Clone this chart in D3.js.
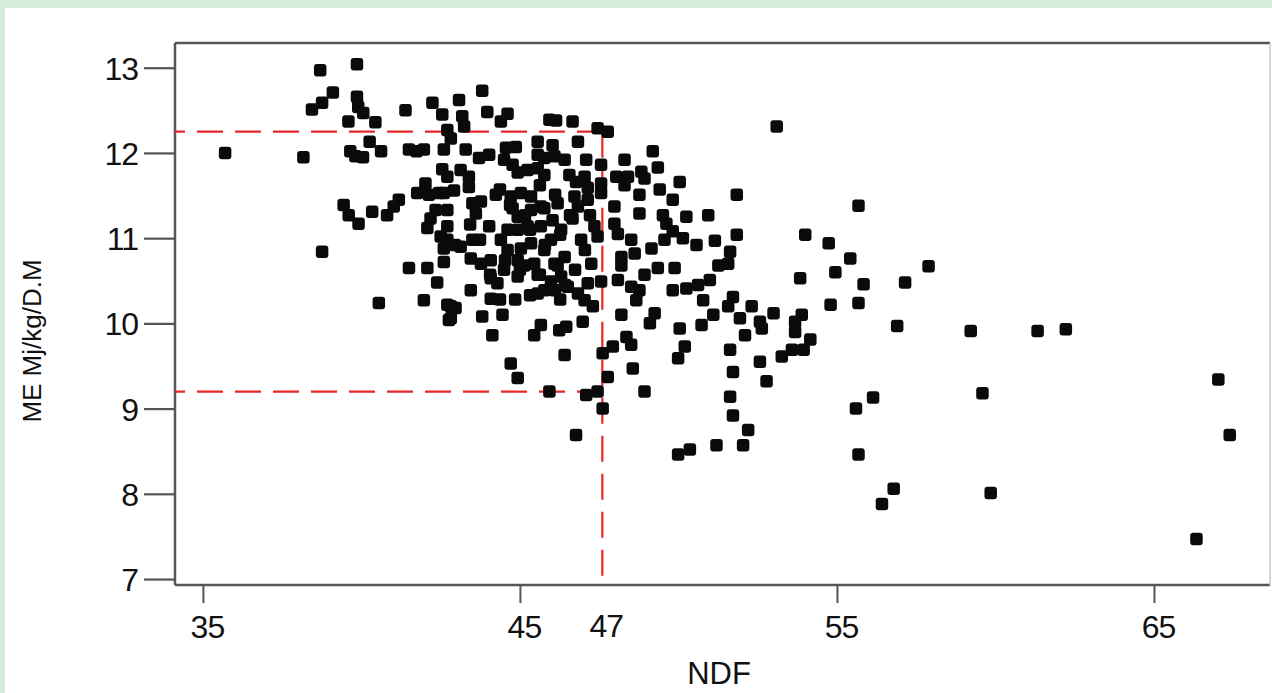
<!DOCTYPE html>
<html>
<head>
<meta charset="utf-8">
<script src="https://cdn.jsdelivr.net/npm/d3@7/dist/d3.min.js"></script>
<style>
  html, body { margin: 0; padding: 0; background: #d5ebdc; }
  svg { display: block; }
  text { font-family: "Liberation Sans", Arial, Helvetica, sans-serif; fill: #111; }
</style>
</head>
<body>
<svg id="chart" width="1272" height="693"></svg>
<script>
// ---- data (NDF, ME) ----
const points = [
  [38.70,12.97],[39.86,13.04],[39.10,12.71],[38.76,12.59],[38.44,12.51],[39.86,12.66],[39.90,12.54],[40.06,12.47],
  [39.59,12.37],[40.44,12.36],[41.39,12.50],[42.24,12.59],[42.55,12.45],[42.71,12.27],[35.70,12.00],[38.17,11.95],
  [39.65,12.02],[39.81,11.96],[40.05,11.95],[40.26,12.13],[40.62,12.02],[41.50,12.04],[41.74,12.02],[41.97,12.04],
  [42.60,12.04],[42.55,11.81],[42.71,11.72],[42.02,11.64],[41.76,11.53],[42.13,11.51],[42.45,11.53],[41.18,11.45],
  [41.02,11.37],[40.81,11.27],[40.34,11.31],[39.44,11.39],[39.60,11.27],[39.91,11.17],[42.34,11.33],[42.18,11.23],
  [42.08,11.12],[42.50,11.02],[42.71,11.14],[42.60,10.88],[38.76,10.84],[41.50,10.65],[42.08,10.65],
  [42.39,10.48],[40.55,10.24],[41.97,10.27],[42.71,10.22],[42.76,10.04],
  [43.81,12.73],[43.08,12.62],[43.18,12.43],[43.97,12.48],[44.61,12.46],[44.40,12.37],[43.24,12.31],[45.93,12.39],
  [46.14,12.38],[46.66,12.37],[47.45,12.29],[47.77,12.25],[42.82,12.17],[43.29,12.04],[43.71,11.94],[44.03,11.98],
  [44.56,12.06],[44.87,12.07],[44.50,11.92],[44.77,11.86],[45.56,12.13],[46.03,12.09],[45.56,11.98],[45.77,11.94],
  [46.09,11.96],[46.41,11.92],[46.83,12.13],[47.09,11.92],[47.56,11.86],[44.93,11.77],[45.24,11.80],[45.56,11.82],
  [45.77,11.74],[46.56,11.74],[46.77,11.66],[47.04,11.72],[43.13,11.80],[43.39,11.72],[43.39,11.60],[42.92,11.56],
  [42.60,11.53],[44.24,11.51],[44.71,11.49],[45.03,11.53],[45.35,11.49],[45.66,11.37],[46.19,11.41],[46.72,11.49],
  [47.14,11.59],[47.14,11.45],[47.56,11.53],[47.56,11.64],[43.50,11.41],[43.77,11.43],[43.61,11.29],[42.71,11.33],
  [44.77,11.35],[44.93,11.25],[45.35,11.33],[45.77,11.35],[46.03,11.21],[46.66,11.23],[46.83,11.37],[44.03,11.14],
  [44.61,11.10],[44.93,11.10],[45.24,11.14],[45.66,11.14],[46.30,11.10],[46.93,10.98],[47.35,11.14],[47.45,11.02],
  [43.50,10.98],[43.13,10.90],[42.71,10.98],[44.40,10.98],[44.61,10.86],[45.03,10.88],[45.35,10.94],[45.77,10.86],
  [45.98,10.98],[46.41,10.78],[43.45,10.76],[44.08,10.74],[44.93,10.74],[45.45,10.70],[46.09,10.70],[47.25,10.70],
  [42.60,10.72],[47.98,11.37],[47.98,11.17],
  [43.45,10.39],[44.08,10.29],[42.82,10.20],[42.97,10.18],[42.82,10.06],[43.81,10.08],[44.45,10.10],[44.13,9.86],
  [44.71,9.53],[44.93,9.36],[45.45,9.86],[45.66,9.98],[46.24,9.92],[46.46,9.96],[46.98,10.02],[46.41,9.63],
  [45.93,9.20],[47.09,9.16],[47.45,9.20],[47.61,9.65],[47.93,9.73],[47.77,9.37],[47.61,9.00],[46.77,8.69],
  [44.08,10.53],[44.29,10.47],[44.93,10.55],[45.56,10.57],[45.56,10.35],[45.77,10.39],[45.98,10.49],[46.30,10.55],
  [46.51,10.43],[46.83,10.35],[47.04,10.27],[47.30,10.20],[47.14,10.47],[47.56,10.49],[46.19,10.68],[45.14,10.68],
  [43.77,10.70],[44.50,10.63],[48.20,10.10],
  [44.37,11.57],[44.69,11.39],[45.16,11.27],[45.63,11.62],[46.11,11.51],[45.32,11.10],[45.79,10.92],[46.27,11.04],
  [44.53,10.74],[45.00,10.63],[44.06,10.57],[45.63,10.57],[46.11,10.39],[45.32,10.33],[46.42,10.45],[46.74,10.63],
  [47.05,10.86],[46.58,11.27],[47.21,11.27],[43.74,10.98],[43.43,11.16],[42.95,10.92],[44.37,10.28],[44.85,10.28],
  [46.27,10.28],
  [53.10,12.31],[49.19,12.02],[48.30,11.92],[49.35,11.83],[48.83,11.78],[48.04,11.72],[48.41,11.72],[48.93,11.70],
  [50.04,11.66],[48.30,11.62],[49.41,11.57],[48.77,11.51],[49.82,11.45],[51.84,11.51],[48.77,11.29],[49.51,11.27],
  [50.25,11.25],[50.94,11.27],[49.62,11.17],[49.82,11.08],[48.09,11.05],[48.51,10.98],[49.56,10.98],[50.14,11.00],
  [50.57,10.92],[51.15,10.97],[51.84,11.04],[49.15,10.88],[48.62,10.82],[48.20,10.78],[51.63,10.84],[51.26,10.68],
  [49.35,10.65],[49.88,10.65],
  [48.20,10.68],[48.93,10.57],[48.09,10.51],[48.51,10.43],[48.77,10.39],[48.67,10.27],[51.57,10.70],[49.82,10.39],
  [50.25,10.41],[50.62,10.45],[50.99,10.51],[50.78,10.27],[51.72,10.31],[51.57,10.20],[51.94,10.06],[52.31,10.20],
  [53.00,10.12],[52.57,10.02],[52.63,9.94],[52.10,9.86],[49.25,10.12],[49.10,10.00],[50.04,9.94],[50.73,9.98],
  [51.10,10.10],[48.36,9.84],[48.51,9.75],[50.20,9.73],[49.99,9.59],[48.56,9.47],[48.93,9.20],[51.63,9.69],
  [51.72,9.43],[51.63,9.14],[51.72,8.92],[52.20,8.75],[52.04,8.57],[51.20,8.57],[50.36,8.52],[49.99,8.46],
  [52.57,9.55],[52.78,9.32],[53.26,9.61],
  [55.68,11.38],[54.00,11.04],[54.74,10.94],[55.42,10.76],[53.84,10.53],[54.95,10.60],[55.84,10.46],[57.15,10.48],
  [57.89,10.67],[54.80,10.22],[55.68,10.24],[56.90,9.97],[59.22,9.91],[61.33,9.91],[62.22,9.93],[53.89,10.10],
  [53.68,10.02],[53.68,9.90],[54.16,9.81],[53.95,9.69],[53.58,9.69],[59.59,9.18],[56.14,9.13],[55.60,9.00],
  [67.03,9.34],[67.39,8.69],[55.68,8.46],[56.79,8.06],[56.42,7.88],[59.85,8.01],[66.34,7.47]
];
const xTicks = [35, 45, 55, 65];
const yTicks = [7, 8, 9, 10, 11, 12, 13];
const refX = 47.6;          // vertical red guide (drawn where the reference shows it)
const refXLabel = "47";
const refYHigh = 12.25;
const refYLow = 9.2;
const xTitle = "NDF";
const yTitle = "ME Mj/kg/D.M";

// ---- layout ----
const svg = d3.select("#chart");
const W = 1272, H = 693;
const plot = { left: 175, right: 1270, top: 43, bottom: 585 };

svg.append("rect").attr("x", 0).attr("y", 0).attr("width", W).attr("height", H).attr("fill", "#d5ebdc");
svg.append("rect").attr("x", 5).attr("y", 8).attr("width", W - 5).attr("height", H - 8).attr("fill", "#ffffff");

const x = d3.scaleLinear().domain([34.12, 68.66]).range([plot.left, plot.right]);
const y = d3.scaleLinear().domain([6.93, 13.29]).range([plot.bottom, plot.top]);

// y axis
const yAxis = svg.append("g")
  .attr("transform", `translate(${plot.left},0)`)
  .call(d3.axisLeft(y).tickValues(yTicks).tickSize(31).tickPadding(6).tickFormat(d3.format("d")));
yAxis.select(".domain").remove();
yAxis.selectAll(".tick line").attr("stroke", "#555").attr("stroke-width", 2.2);
yAxis.selectAll(".tick text").attr("font-size", 32).attr("fill", "#111")
  .style("font-family", "'Liberation Sans', Arial, sans-serif").attr("dy", "0.36em").attr("letter-spacing", -1);

// x axis
const xAxis = svg.append("g")
  .attr("transform", `translate(0,${plot.bottom})`)
  .call(d3.axisBottom(x).tickValues(xTicks).tickSize(18).tickPadding(12).tickFormat(d3.format("d")));
xAxis.select(".domain").remove();
xAxis.selectAll(".tick line").attr("stroke", "#555").attr("stroke-width", 2);
xAxis.selectAll(".tick text").attr("font-size", 32).attr("fill", "#111")
  .style("font-family", "'Liberation Sans', Arial, sans-serif").attr("dx", 4).attr("letter-spacing", -1);

// frame
svg.append("line").attr("x1", plot.left).attr("x2", plot.right).attr("y1", plot.top).attr("y2", plot.top)
  .attr("stroke", "#555").attr("stroke-width", 2.5);
svg.append("line").attr("x1", plot.left).attr("x2", plot.right).attr("y1", plot.bottom).attr("y2", plot.bottom)
  .attr("stroke", "#555").attr("stroke-width", 2.5);
svg.append("line").attr("x1", plot.left).attr("x2", plot.left).attr("y1", plot.top).attr("y2", plot.bottom)
  .attr("stroke", "#555").attr("stroke-width", 2.5);
svg.append("line").attr("x1", plot.right).attr("x2", plot.right).attr("y1", plot.top).attr("y2", plot.bottom)
  .attr("stroke", "#c8c8c8").attr("stroke-width", 1.5);

// red dashed guides
const red = "#e5292b";
const guides = svg.append("g").attr("fill", "none").attr("stroke", red).attr("stroke-width", 2.2)
  .attr("stroke-dasharray", "26 12");
guides.append("line").attr("x1", plot.left).attr("x2", x(refX)).attr("y1", y(refYHigh)).attr("y2", y(refYHigh))
  .attr("stroke-dashoffset", 16);
guides.append("line").attr("x1", plot.left).attr("x2", x(refX)).attr("y1", y(refYLow)).attr("y2", y(refYLow))
  .attr("stroke-dashoffset", 16);
guides.append("line").attr("x1", x(refX)).attr("x2", x(refX)).attr("y1", y(refYHigh)).attr("y2", plot.bottom);

// extra "47" label under the vertical guide
svg.append("text").attr("x", x(refX) + 4).attr("y", plot.bottom + 52).attr("text-anchor", "middle")
  .attr("font-size", 32).attr("letter-spacing", -1).text(refXLabel);

// points
svg.append("g").selectAll("rect").data(points).join("rect")
  .attr("x", d => x(d[0]) - 6.25).attr("y", d => y(d[1]) - 6.25)
  .attr("width", 12.5).attr("height", 12.5).attr("rx", 3).attr("ry", 3)
  .attr("fill", "#0a0a0a");

// titles
svg.append("text").attr("x", 719).attr("y", 684).attr("text-anchor", "middle")
  .attr("font-size", 31).text(xTitle);
svg.append("text").attr("transform", "translate(41,341) rotate(-90)").attr("text-anchor", "middle")
  .attr("font-size", 26).text(yTitle);
</script>
</body>
</html>
